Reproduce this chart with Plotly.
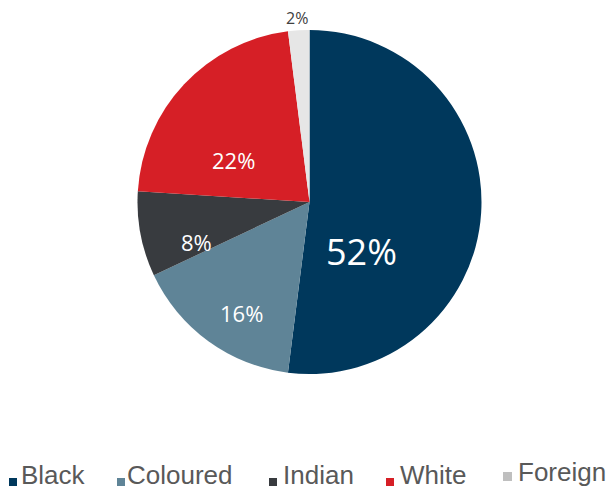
import plotly.graph_objects as go

# Population groups and their share (%)
groups = ["Black", "Coloured", "Indian", "White", "Foreign"]
shares = [52, 16, 8, 22, 2]

# Styling
slice_colors = ["#00385C", "#5F8497", "#383B3F", "#D61F26", "#E6E6E6"]
legend_colors = ["#00385C", "#5F8497", "#383B3F", "#D61F26", "#BFBFBF"]

W, H = 608, 490
cx, cy, r = 309.5, 202.0, 172.0


def px(x):
    return x / W


def py(y):
    return 1 - y / H


fig = go.Figure(
    go.Pie(
        labels=groups,
        values=shares,
        sort=False,
        direction="clockwise",
        rotation=0,
        marker=dict(colors=slice_colors, line=dict(width=0)),
        textinfo="none",
        hoverinfo="label+percent",
        showlegend=False,
        domain=dict(x=[px(cx - r), px(cx + r)], y=[py(cy + r), py(cy - r)]),
    )
)

# Value labels: (centre x, centre y, font size, colour) per slice
label_style = [
    (361, 251, 36, "white"),
    (241, 313, 22, "white"),
    (196, 242, 22, "white"),
    (233, 160, 22, "white"),
    (297, 18, 16, "#404040"),
]
annotations = []
for share, (lx, ly, size, col) in zip(shares, label_style):
    annotations.append(dict(
        x=px(lx), y=py(ly), xref="paper", yref="paper",
        text=f"{share}%", showarrow=False, xanchor="center", yanchor="middle",
        font=dict(family="Open Sans", size=size, color=col),
    ))

# Legend: square marker x, text x, vertical centre y
legend_pos = [
    (9, 20, 475),
    (117, 126, 475),
    (269, 282, 475),
    (386, 399, 475),
    (503, 517, 472),
]
shapes = []
for name, col, (sx, tx, ly) in zip(groups, legend_colors, legend_pos):
    sq_bottom = ly + 11 if name != "Foreign" else ly + 9
    size = 8 if name != "Foreign" else 9
    shapes.append(dict(
        type="rect", xref="paper", yref="paper",
        x0=px(sx), x1=px(sx + size), y0=py(sq_bottom), y1=py(sq_bottom - size),
        fillcolor=col, line=dict(width=0),
    ))
    annotations.append(dict(
        x=px(tx), y=py(ly), xref="paper", yref="paper",
        text=name, showarrow=False, xanchor="left", yanchor="middle",
        borderpad=0,
        font=dict(family="Liberation Sans", size=26, color="#595959"),
    ))

fig.update_layout(
    width=W, height=H,
    margin=dict(l=0, r=0, t=0, b=0),
    paper_bgcolor="white",
    plot_bgcolor="white",
    annotations=annotations,
    shapes=shapes,
)

fig.write_html("out.html")
